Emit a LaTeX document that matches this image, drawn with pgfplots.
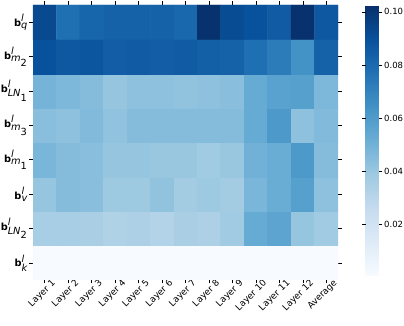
\documentclass[border=0pt]{standalone}
\usepackage{pgfplots}
\pgfplotsset{compat=1.18}
\usetikzlibrary{calc}
\usepackage{fontspec}
\setmainfont{DejaVu Sans}

\pgfplotsset{
  colormap={blues}{rgb255=(247,251,255) rgb255=(222,235,247) rgb255=(198,219,239)
    rgb255=(158,202,225) rgb255=(107,174,214) rgb255=(66,146,198) rgb255=(33,113,181)
    rgb255=(8,81,156) rgb255=(8,48,107)},
}

\begin{document}
\begin{tikzpicture}
\begin{axis}[
    name=main,
    scale only axis,
    width=305bp, height=275bp,
    xmin=-0.5, xmax=12.5, ymin=-0.5, ymax=7.5,
    enlargelimits=false,
    axis line style={draw=none},
    tick align=outside,
    major tick length=3.5bp,
    tick style={black, line width=0.6pt},
    xtick={0,...,12}, ytick={0,...,7},
    xticklabels={Layer 1,Layer 2,Layer 3,Layer 4,Layer 5,Layer 6,Layer 7,Layer 8,Layer 9,Layer 10,Layer 11,Layer 12,Average},
    yticklabels={
      $\textbf{b}^{\textit{l}}_{\textit{k}}$,
      $\textbf{b}^{\textit{l}}_{\textit{LN}_{\textup{2}}}$,
      $\textbf{b}^{\textit{l}}_{\textit{v}}$,
      $\textbf{b}^{\textit{l}}_{\textit{m}_{\textup{1}}}$,
      $\textbf{b}^{\textit{l}}_{\textit{m}_{\textup{3}}}$,
      $\textbf{b}^{\textit{l}}_{\textit{LN}_{\textup{1}}}$,
      $\textbf{b}^{\textit{l}}_{\textit{m}_{\textup{2}}}$,
      $\textbf{b}^{\textit{l}}_{\textit{q}}$},
    xticklabel style={rotate=45, anchor=north east, inner sep=1pt, xshift=9bp,
      font=\fontsize{9bp}{11bp}\selectfont},
    yticklabel style={font=\fontsize{9.8bp}{12bp}\selectfont, inner sep=1.5pt},
    colormap name=blues,
    point meta min=0.0004, point meta max=0.1026,
    colorbar,
    colorbar style={
      at={(parent axis.north east)}, anchor=north west, xshift=19bp,
      width=13bp, height=271bp,
      axis line style={draw=none},
      ytick={0.02,0.04,0.06,0.08,0.10},
      yticklabel style={/pgf/number format/fixed, /pgf/number format/fixed zerofill,
        /pgf/number format/precision=2, /pgf/number format/assume math mode=true,
        font=\fontsize{8.5bp}{10bp}\selectfont, inner sep=2pt},
      tick align=outside, major tick length=3.5bp,
      tick style={black, line width=0.6pt},
    },
]
\addplot[matrix plot*, mesh/cols=13, point meta=explicit] table[meta=c] {
x y c
0 0 0.0005
1 0 0.0005
2 0 0.0005
3 0 0.0005
4 0 0.0005
5 0 0.0005
6 0 0.0005
7 0 0.0005
8 0 0.0005
9 0 0.0005
10 0 0.0005
11 0 0.0005
12 0 0.0005
0 1 0.036
1 1 0.036
2 1 0.035
3 1 0.033
4 1 0.034
5 1 0.032
6 1 0.035
7 1 0.034
8 1 0.038
9 1 0.053
10 1 0.056
11 1 0.041
12 1 0.038
0 2 0.041
1 2 0.045
2 2 0.044
3 2 0.039
4 2 0.039
5 2 0.042
6 2 0.037
7 2 0.039
8 2 0.037
9 2 0.048
10 2 0.052
11 2 0.058
12 2 0.043
0 3 0.048
1 3 0.045
2 3 0.044
3 3 0.041
4 3 0.041
5 3 0.040
6 3 0.040
7 3 0.038
8 3 0.040
9 3 0.050
10 3 0.052
11 3 0.061
12 3 0.045
0 4 0.044
1 4 0.043
2 4 0.046
3 4 0.042
4 4 0.045
5 4 0.045
6 4 0.045
7 4 0.045
8 4 0.045
9 4 0.053
10 4 0.061
11 4 0.043
12 4 0.046
0 5 0.049
1 5 0.047
2 5 0.045
3 5 0.041
4 5 0.043
5 5 0.043
6 5 0.042
7 5 0.043
8 5 0.044
9 5 0.053
10 5 0.057
11 5 0.058
12 5 0.047
0 6 0.090
1 6 0.087
2 6 0.088
3 6 0.085
4 6 0.086
5 6 0.085
6 6 0.086
7 6 0.084
8 6 0.083
9 6 0.078
10 6 0.073
11 6 0.064
12 6 0.083
0 7 0.093
1 7 0.078
2 7 0.082
3 7 0.083
4 7 0.083
5 7 0.083
6 7 0.081
7 7 0.102
8 7 0.092
9 7 0.090
10 7 0.086
11 7 0.102
12 7 0.087
};
\end{axis}
\pgfresetboundingbox
\useasboundingbox ($(main.south west)+(-33bp,-46bp)$) rectangle ($(main.north east)+(66bp,5bp)$);
\end{tikzpicture}
\end{document}
